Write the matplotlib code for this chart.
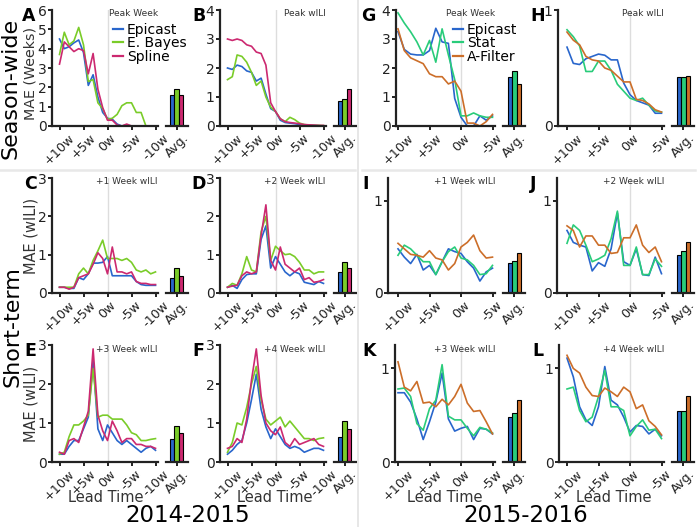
import matplotlib
matplotlib.use('Agg')
import matplotlib.pyplot as plt
from matplotlib.lines import Line2D

# ---- data ----
lead_1415 = [10, 9, 8, 7, 6, 5, 4, 3, 2, 1, 0, -1, -2, -3, -4, -5, -6, -7, -8, -9, -10]
lead_1516 = [10, 9, 8, 7, 6, 5, 4, 3, 2, 1, 0, -1, -2, -3, -4, -5]
models_1415 = ['Epicast', 'E. Bayes', 'Spline']
models_1516 = ['Epicast', 'Stat', 'A-Filter']

# A: peak week 2014-2015
a_epicast = [4.5, 4.0, 4.1, 4.3, 4.45, 3.8, 2.1, 2.65, 1.5, 0.7, 0.4, 0.35, 0.1, 0.0, 0.05, 0.0, 0.0, 0.0, 0.0, 0.0, 0.0]
a_ebayes = [3.7, 4.85, 4.2, 4.4, 5.1, 4.2, 2.3, 2.4, 1.2, 0.9, 0.35, 0.4, 0.6, 1.05, 1.2, 1.2, 0.7, 0.7, 0.0, 0.0, 0.0]
a_spline = [3.2, 4.35, 4.1, 3.85, 4.0, 3.9, 2.7, 3.75, 1.9, 0.95, 0.3, 0.3, 0.05, 0.0, 0.1, 0.0, 0.0, 0.0, 0.0, 0.0, 0.0]
a_avg = [1.6, 1.9, 1.6]

# B: peak wILI 2014-2015
b_epicast = [2.0, 1.95, 2.1, 2.05, 1.9, 1.85, 1.55, 1.65, 1.1, 0.6, 0.5, 0.2, 0.12, 0.1, 0.08, 0.05, 0.03, 0.02, 0.02, 0.01, 0.0]
b_ebayes = [1.6, 1.7, 2.45, 2.4, 2.2, 1.85, 1.4, 1.55, 1.0, 0.65, 0.5, 0.25, 0.15, 0.3, 0.22, 0.1, 0.05, 0.03, 0.02, 0.02, 0.01]
b_spline = [3.0, 2.95, 3.0, 2.95, 2.8, 2.75, 2.55, 2.5, 2.1, 0.8, 0.5, 0.25, 0.15, 0.12, 0.1, 0.08, 0.05, 0.04, 0.03, 0.02, 0.02]
b_avg = [0.87, 0.92, 1.27]

# C: +1 week 2014-2015
c_epicast = [0.15, 0.15, 0.12, 0.12, 0.4, 0.35, 0.5, 0.78, 0.78, 0.8, 0.95, 0.45, 0.45, 0.45, 0.45, 0.45, 0.3, 0.22, 0.2, 0.2, 0.2]
c_ebayes = [0.15, 0.15, 0.15, 0.15, 0.5, 0.65, 0.5, 0.85, 1.1, 1.38, 0.9, 0.9, 0.9, 0.85, 0.9, 0.8, 0.6, 0.55, 0.6, 0.5, 0.55]
c_spline = [0.15, 0.15, 0.1, 0.15, 0.4, 0.45, 0.5, 0.75, 1.05, 0.9, 0.5, 1.2, 0.55, 0.55, 0.5, 0.55, 0.3, 0.25, 0.25, 0.22, 0.22]
c_avg = [0.4, 0.65, 0.45]

# D: +2 week 2014-2015
d_epicast = [0.15, 0.2, 0.12, 0.35, 0.48, 0.5, 0.5, 1.4, 1.75, 0.65, 0.95, 0.75, 0.55, 0.45, 0.55, 0.5, 0.28, 0.25, 0.22, 0.3, 0.25]
d_ebayes = [0.15, 0.25, 0.2, 0.5, 0.95, 0.6, 0.55, 1.6, 2.0, 0.85, 1.22, 1.1, 1.0, 1.02, 0.95, 0.8, 0.6, 0.6, 0.5, 0.55, 0.55]
d_spline = [0.15, 0.18, 0.2, 0.45, 0.55, 0.5, 0.55, 1.5, 2.3, 0.85, 0.6, 1.2, 0.75, 0.65, 0.55, 0.65, 0.35, 0.4, 0.28, 0.3, 0.35]
d_avg = [0.55, 0.8, 0.65]

# E: +3 week 2014-2015
e_epicast = [0.2, 0.2, 0.4, 0.55, 0.55, 0.85, 1.15, 2.6, 0.85, 0.55, 0.95, 0.75, 0.55, 0.45, 0.55, 0.45, 0.35, 0.25, 0.35, 0.4, 0.3]
e_ebayes = [0.2, 0.25, 0.65, 0.95, 0.95, 1.05, 1.2, 2.4, 1.15, 1.2, 1.2, 1.1, 1.1, 1.1, 0.95, 0.75, 0.7, 0.55, 0.55, 0.58, 0.6]
e_spline = [0.25, 0.2, 0.55, 0.6, 0.5, 0.9, 1.3, 2.9, 1.2, 0.8, 0.55, 1.05, 0.8, 0.5, 0.6, 0.6, 0.45, 0.45, 0.4, 0.4, 0.35]
e_avg = [0.6, 0.93, 0.75]

# F: +4 week 2014-2015
f_epicast = [0.2, 0.3, 0.45, 0.55, 1.0, 1.6, 2.25, 1.35, 0.9, 0.6, 0.85, 0.65, 0.45, 0.35, 0.4, 0.35, 0.25, 0.3, 0.35, 0.35, 0.3]
f_ebayes = [0.25, 0.5, 1.0, 0.95, 1.4, 2.0, 2.45, 1.6, 1.1, 0.95, 1.05, 1.15, 0.9, 1.05, 0.9, 0.75, 0.6, 0.6, 0.55, 0.6, 0.62]
f_spline = [0.35, 0.4, 0.6, 0.5, 1.1, 2.1, 2.9, 1.7, 1.0, 0.8, 0.7, 0.9, 0.5, 0.4, 0.6, 0.45, 0.5, 0.55, 0.6, 0.45, 0.4]
f_avg = [0.65, 1.05, 0.85]

# G: peak week 2015-2016
g_epicast = [3.25, 2.64, 2.48, 2.45, 2.45, 2.6, 3.37, 2.9, 2.85, 0.95, 0.3, 0.0, 0.0, 0.35, 0.2, 0.35]
g_stat = [3.9, 3.55, 3.25, 2.9, 2.45, 2.95, 2.2, 3.35, 2.45, 1.6, 0.35, 0.35, 0.45, 0.35, 0.3, 0.3]
g_afilter = [3.35, 2.6, 2.35, 2.25, 2.15, 1.8, 1.7, 1.7, 1.45, 1.55, 1.2, 0.1, 0.1, 0.0, 0.15, 0.4]
g_avg = [1.7, 1.9, 1.45]

# H: peak wILI 2015-2016
h_epicast = [0.68, 0.54, 0.53, 0.58, 0.6, 0.62, 0.61, 0.57, 0.57, 0.37, 0.27, 0.22, 0.2, 0.18, 0.11, 0.11]
h_stat = [0.83, 0.77, 0.69, 0.47, 0.47, 0.56, 0.56, 0.48, 0.36, 0.3, 0.24, 0.22, 0.24, 0.18, 0.13, 0.12]
h_afilter = [0.81, 0.74, 0.7, 0.6, 0.57, 0.56, 0.5, 0.48, 0.43, 0.38, 0.38, 0.23, 0.22, 0.19, 0.14, 0.12]
h_avg = [0.42, 0.42, 0.43]

# I: +1 week 2015-2016
i_epicast = [0.48, 0.39, 0.32, 0.42, 0.25, 0.3, 0.2, 0.34, 0.48, 0.45, 0.43, 0.34, 0.27, 0.13, 0.23, 0.27]
i_stat = [0.41, 0.52, 0.48, 0.41, 0.34, 0.34, 0.2, 0.34, 0.45, 0.5, 0.38, 0.36, 0.3, 0.2, 0.21, 0.3]
i_afilter = [0.54, 0.48, 0.42, 0.41, 0.39, 0.46, 0.38, 0.36, 0.25, 0.32, 0.5, 0.55, 0.63, 0.46, 0.38, 0.39]
i_avg = [0.33, 0.35, 0.43]

# J: +2 week 2015-2016
j_epicast = [0.68, 0.55, 0.52, 0.5, 0.24, 0.33, 0.29, 0.48, 0.87, 0.34, 0.3, 0.48, 0.2, 0.19, 0.39, 0.21]
j_stat = [0.54, 0.74, 0.68, 0.52, 0.34, 0.37, 0.41, 0.59, 0.89, 0.3, 0.3, 0.5, 0.2, 0.2, 0.37, 0.29]
j_afilter = [0.73, 0.68, 0.5, 0.62, 0.62, 0.52, 0.52, 0.43, 0.44, 0.6, 0.6, 0.74, 0.52, 0.44, 0.5, 0.34]
j_avg = [0.41, 0.46, 0.55]

# K: +3 week 2015-2016
k_epicast = [0.74, 0.74, 0.64, 0.46, 0.24, 0.43, 0.64, 0.95, 0.46, 0.33, 0.36, 0.38, 0.24, 0.36, 0.35, 0.3]
k_stat = [0.78, 0.79, 0.7, 0.41, 0.34, 0.57, 0.66, 1.04, 0.49, 0.45, 0.45, 0.36, 0.28, 0.37, 0.35, 0.31]
k_afilter = [1.07, 0.8, 0.76, 0.86, 0.63, 0.64, 0.59, 0.67, 0.61, 0.7, 0.83, 0.63, 0.54, 0.55, 0.43, 0.3]
k_avg = [0.48, 0.52, 0.66]

# L: +4 week 2015-2016
l_epicast = [1.11, 0.91, 0.59, 0.45, 0.39, 0.59, 1.02, 0.66, 0.61, 0.48, 0.32, 0.39, 0.38, 0.3, 0.35, 0.28]
l_stat = [0.78, 0.8, 0.55, 0.43, 0.48, 0.7, 0.98, 0.59, 0.59, 0.55, 0.28, 0.38, 0.45, 0.34, 0.35, 0.25]
l_afilter = [1.14, 1.0, 0.95, 0.8, 0.71, 0.7, 0.79, 0.75, 0.7, 0.8, 0.75, 0.57, 0.61, 0.44, 0.38, 0.29]
l_avg = [0.55, 0.54, 0.7]

ticks_1415 = ['+10w', '+5w', '0w', '-5w', '-10w']
ticks_1516 = ['+10w', '+5w', '0w', '-5w']

# ---- style ----
colors_1415 = ['#2966cc', '#7acc29', '#cc2970']
colors_1516 = ['#2966cc', '#29cc7a', '#cc6e29']
INK = '#222222'
W, H = 700, 527


def rect(left, top, right, bottom):
    return [left / W, 1 - bottom / H, (right - left) / W, (bottom - top) / H]


def style_spines(ax, left=True):
    for s in ['top', 'right']:
        ax.spines[s].set_visible(False)
    ax.spines['left'].set_visible(left)
    for s in ['left', 'bottom']:
        ax.spines[s].set_linewidth(1.6)
        ax.spines[s].set_color(INK)
    ax.tick_params(direction='out', length=3, width=1.4, color=INK,
                   labelsize=10, labelcolor=INK, pad=1)
    ax.tick_params(axis='x', labelsize=9.2)


def draw_panel(fig, letter, letter_x, spine, x10, xend, top, bottom, lead, series,
               colors, avg, ylim, yticks, title, ticklabels):
    ppw = (xend - x10) / (lead[0] - lead[-1])
    right = xend + 0.45 * ppw
    ax = fig.add_axes(rect(spine, top, right, bottom))
    ax.axvline(0, color='#dddddd', lw=1, zorder=0)
    for vals, c in zip(series, colors):
        ax.plot(lead, vals, color=c, lw=1.2, clip_on=False)
    ax.set_xlim(lead[0] + (x10 - spine) / ppw, lead[-1] - 0.45)
    ax.set_ylim(*ylim)
    ax.set_yticks(yticks)
    ax.set_yticklabels([str(t) for t in yticks])
    ax.set_xticks([10, 5, 0, -5, -10][:len(ticklabels)])
    ax.set_xticklabels(ticklabels, rotation=45)
    style_spines(ax)
    ax.text(1.0, 1 - 4.0 / (bottom - top), title, transform=ax.transAxes,
            ha='right', va='center', fontsize=6.5, color='#333333')
    fig.text(letter_x / W, 1 - (top - 3) / H, letter, fontsize=12.5,
             fontweight='bold', va='top', ha='left')

    # average bars
    bc = right + 19
    bx = fig.add_axes(rect(bc - 11, top, bc + 11, bottom))
    bx.bar([0, 1, 2], avg, width=1, color=colors, edgecolor='black', lw=0.8)
    bx.set_xlim(-1.5, 3.5)
    bx.set_ylim(*ylim)
    bx.set_yticks([])
    bx.set_xticks([1])
    bx.set_xticklabels(['Avg.'], rotation=45)
    style_spines(bx, left=False)
    bx.patch.set_alpha(0)
    return ax


fig = plt.figure(figsize=(7, 5.27), dpi=100)

rows = [(10, 126), (178, 293), (345, 462)]
left_specs = [
    ('A', 22, 52, (a_epicast, a_ebayes, a_spline), a_avg, (0, 6), [0, 1, 2, 3, 4, 5, 6], 'Peak Week', 0),
    ('B', 192, 220, (b_epicast, b_ebayes, b_spline), b_avg, (0, 4), [0, 1, 2, 3, 4], 'Peak wILI', 0),
    ('C', 24, 52, (c_epicast, c_ebayes, c_spline), c_avg, (0, 3), [0, 1, 2, 3], '+1 Week wILI', 1),
    ('D', 191, 220, (d_epicast, d_ebayes, d_spline), d_avg, (0, 3), [0, 1, 2, 3], '+2 Week wILI', 1),
    ('E', 24, 52, (e_epicast, e_ebayes, e_spline), e_avg, (0, 3), [0, 1, 2, 3], '+3 Week wILI', 2),
    ('F', 192, 220, (f_epicast, f_ebayes, f_spline), f_avg, (0, 3), [0, 1, 2, 3], '+4 Week wILI', 2),
]
axes = {}
for letter, lx, spine, series, avg, ylim, yt, title, r in left_specs:
    top, bottom = rows[r]
    axes[letter] = draw_panel(fig, letter, lx, spine, spine + 7.5, spine + 103.5, top, bottom,
                              lead_1415, series, colors_1415, avg, ylim, yt, title, ticks_1415)

right_specs = [
    ('G', 361, 396, 398, (g_epicast, g_stat, g_afilter), g_avg, (0, 4), [0, 1, 2, 3, 4], 'Peak Week', 0),
    ('H', 530, 558, 567, (h_epicast, h_stat, h_afilter), h_avg, (0, 1), [0, 1], 'Peak wILI', 0),
    ('I', 362, 388, 398, (i_epicast, i_stat, i_afilter), i_avg, (0, 1.25), [0, 1], '+1 Week wILI', 1),
    ('J', 530, 557, 567, (j_epicast, j_stat, j_afilter), j_avg, (0, 1.25), [0, 1], '+2 Week wILI', 1),
    ('K', 362, 395, 398, (k_epicast, k_stat, k_afilter), k_avg, (0, 1.25), [0, 1], '+3 Week wILI', 2),
    ('L', 532, 559, 567, (l_epicast, l_stat, l_afilter), l_avg, (0, 1.25), [0, 1], '+4 Week wILI', 2),
]
for letter, lx, spine, x10, series, avg, ylim, yt, title, r in right_specs:
    top, bottom = rows[r]
    axes[letter] = draw_panel(fig, letter, lx, spine, x10, x10 + 94.5, top, bottom,
                              lead_1516, series, colors_1516, avg, ylim, yt, title, ticks_1516)

# legends
for letter, names, cols, px in [('A', models_1415, colors_1415, 113), ('G', models_1516, colors_1516, 453)]:
    handles = [Line2D([], [], color=c, lw=1.6) for c in cols]
    axes[letter].legend(handles, names, loc='upper left', bbox_to_anchor=(px / W, 1 - 23 / H),
                        bbox_transform=fig.transFigure, frameon=False, fontsize=10,
                        handlelength=0.75, handletextpad=0.25, labelspacing=-0.05,
                        borderpad=0, borderaxespad=0)

# axis labels
fig.text(31 / W, 1 - 73 / H, 'MAE (Weeks)', rotation=90, ha='center', va='center', fontsize=10.3, color='#333333')
fig.text(31 / W, 1 - 235.5 / H, 'MAE (wILI)', rotation=90, ha='center', va='center', fontsize=10.5, color='#333333')
fig.text(31 / W, 1 - 403.5 / H, 'MAE (wILI)', rotation=90, ha='center', va='center', fontsize=10.5, color='#333333')
for cx in [106, 275, 445, 614]:
    fig.text(cx / W, 1 - 497 / H, 'Lead Time', ha='center', va='center', fontsize=10.5, color='#333333')

fig.text(11 / W, 1 - 88 / H, 'Season-wide', rotation=90, ha='center', va='center', fontsize=16)
fig.text(13 / W, 1 - 327 / H, 'Short-term', rotation=90, ha='center', va='center', fontsize=16)
fig.text(188 / W, 1 - 515 / H, '2014-2015', ha='center', va='center', fontsize=16.5)
fig.text(526 / W, 1 - 515 / H, '2015-2016', ha='center', va='center', fontsize=16.5)

# separators
fig.add_artist(Line2D([358 / W, 358 / W], [0, 1], color='#e3e3e3', lw=1.2))
fig.add_artist(Line2D([0, 355 / W], [1 - 170 / H] * 2, color='#e8e8e8', lw=1.8))
fig.add_artist(Line2D([362 / W, 695 / W], [1 - 170 / H] * 2, color='#e8e8e8', lw=1.8))

fig.savefig('out.png', dpi=100)
